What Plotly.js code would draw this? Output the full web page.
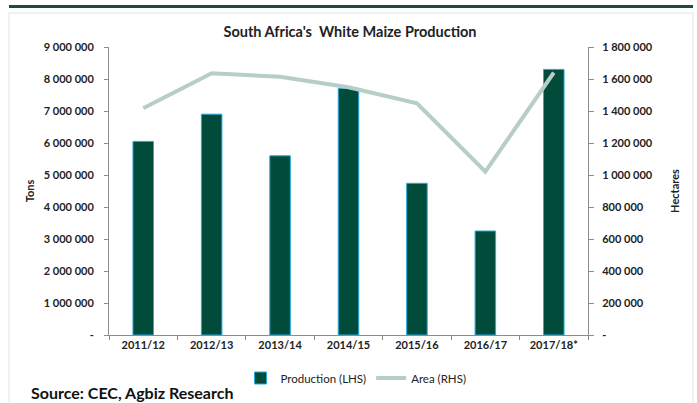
<!DOCTYPE html>
<html>
<head>
<meta charset="utf-8">
<script src="https://cdn.plot.ly/plotly-3.0.1.min.js"></script>
<style>
html,body{margin:0;padding:0;background:#fff;}
#chart{width:697px;height:403px;}
</style>
</head>
<body>
<div id="chart"></div>
<script>
const seasons = ["2011/12","2012/13","2013/14","2014/15","2015/16","2016/17","2017/18*"];
const productionTons = [6050000, 6900000, 5600000, 7710000, 4740000, 3250000, 8300000];
const areaHectares = [1417000, 1636000, 1614000, 1548000, 1448000, 1021000, 1640000];
const leftTickVals = [0,1000000,2000000,3000000,4000000,5000000,6000000,7000000,8000000,9000000];
const leftTickText = ["-","1 000 000","2 000 000","3 000 000","4 000 000","5 000 000","6 000 000","7 000 000","8 000 000","9 000 000"];
const rightTickVals = [0,200000,400000,600000,800000,1000000,1200000,1400000,1600000,1800000];
const rightTickText = ["-","200 000","400 000","600 000","800 000","1 000 000","1 200 000","1 400 000","1 600 000","1 800 000"];

const L = 109, R = 588, T = 47, B = 335;
const W = R - L, H = B - T;
const px = x => (x - L) / W;
const py = y => (B - y) / H;

const font = "Lato, 'Open Sans', sans-serif";

const traces = [
  {
    type: "bar",
    name: "Production (LHS)",
    x: seasons,
    y: productionTons,
    marker: {color: "#004B3A", line: {color: "#29A9DE", width: 1}},
    width: 0.3,
    yaxis: "y",
    hoverinfo: "x+y"
  },
  {
    type: "scatter",
    mode: "lines",
    name: "Area (RHS)",
    x: seasons,
    y: areaHectares,
    line: {color: "#B7CEC6", width: 4},
    yaxis: "y2"
  }
];

const layout = {
  width: 697, height: 403,
  margin: {l: L, r: 697 - R, t: T, b: 403 - B, autoexpand: false},
  paper_bgcolor: "#fff",
  plot_bgcolor: "#fff",
  font: {family: font, size: 11, color: "#222"},
  showlegend: true,
  legend: {
    orientation: "h", x: px(356), xanchor: "center", y: py(378), yanchor: "middle",
    font: {family: font, size: 11.5, color: "#222"},
    itemwidth: 30, tracegroupgap: 0, bgcolor: "rgba(0,0,0,0)"
  },
  title: {
    text: "<b>South Africa's  White Maize Production</b>",
    x: px(350), xanchor: "center", xref: "paper",
    y: 1 - 32/403, yanchor: "middle",
    font: {family: font, size: 14.5, color: "#222"}
  },
  xaxis: {
    type: "category",
    showline: true, linecolor: "#8c8c8c", linewidth: 1,
    ticks: "outside", ticklen: 4, tickcolor: "#8c8c8c", tickson: "boundaries",
    tickfont: {family: font, size: 11, color: "#222", weight: "bold"},
    showgrid: false, zeroline: false,
    range: [-0.5, 6.5]
  },
  yaxis: {
    range: [0, 9000000],
    tickvals: leftTickVals, ticktext: leftTickText,
    showline: true, linecolor: "#8c8c8c", linewidth: 1,
    ticks: "outside", ticklen: 4, tickcolor: "#8c8c8c",
    tickfont: {family: font, size: 11, color: "#222", weight: "bold"},
    ticklabelstandoff: 8,
    showgrid: false, zeroline: false,
    title: {text: "<b>Tons</b>", font: {family: font, size: 11, color: "#222"}, standoff: 6}
  },
  yaxis2: {
    overlaying: "y", side: "right",
    range: [0, 1800000],
    tickvals: rightTickVals, ticktext: rightTickText,
    showline: true, linecolor: "#8c8c8c", linewidth: 1,
    ticks: "outside", ticklen: 5, tickcolor: "#8c8c8c",
    tickfont: {family: font, size: 11, color: "#222", weight: "bold"},
    ticklabelstandoff: 6,
    showgrid: false, zeroline: false,
    title: {text: "<b>Hectares</b>", font: {family: font, size: 11, color: "#222"}, standoff: 19}
  },
  shapes: [
    {type: "rect", xref: "paper", yref: "paper", x0: px(9), x1: px(693), y0: py(420), y1: py(13),
     line: {color: "#e3e3e3", width: 1}, fillcolor: "rgba(0,0,0,0)", layer: "below"},
    {type: "line", xref: "paper", yref: "paper", x0: px(9), x1: px(693), y0: py(6.5), y1: py(6.5),
     line: {color: "#1f4a3a", width: 3}}
  ],
  annotations: [
    {text: "<b>Source: CEC, Agbiz Research</b>", xref: "paper", yref: "paper",
     x: px(29), xanchor: "left", y: py(392), yanchor: "middle", showarrow: false,
     font: {family: font, size: 16, color: "#111"}}
  ]
};

Plotly.newPlot("chart", traces, layout, {displayModeBar: false, staticPlot: true});
</script>
</body>
</html>
